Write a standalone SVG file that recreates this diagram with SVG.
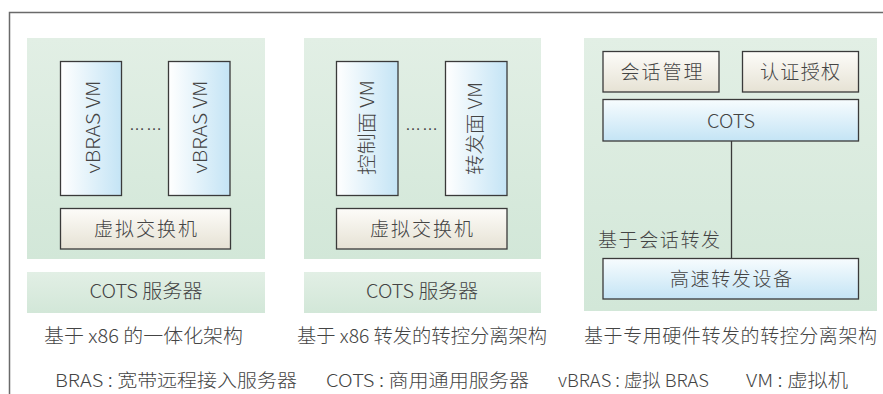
<svg xmlns="http://www.w3.org/2000/svg" width="883" height="394" viewBox="0 0 883 394">
<defs>
<linearGradient id="gGreen" x1="0" y1="0" x2="0" y2="1"><stop offset="0" stop-color="#e2efe5"/><stop offset="1" stop-color="#d2e7d8"/></linearGradient>
<linearGradient id="gVM" x1="0" y1="0" x2="1" y2="0"><stop offset="0" stop-color="#ffffff"/><stop offset="1" stop-color="#c4e4f5"/></linearGradient>
<linearGradient id="gBeige" x1="0" y1="0" x2="0" y2="1"><stop offset="0" stop-color="#fdfcf9"/><stop offset="1" stop-color="#e6e2d4"/></linearGradient>
<linearGradient id="gBlue" x1="0" y1="0" x2="0" y2="1"><stop offset="0" stop-color="#f7fcfe"/><stop offset="1" stop-color="#c4e4f5"/></linearGradient>
</defs>
<style>
text{font-family:"Noto Sans CJK SC","Liberation Sans",sans-serif;fill:#444444;font-size:19px;font-weight:300}
.m{text-anchor:middle}
.box{stroke:#3a3a3a;stroke-width:1.3}
.panel{fill:url(#gGreen)}
.vm{fill:url(#gVM)}
.beige{fill:url(#gBeige)}
.blue{fill:url(#gBlue)}
.dots{font-family:"Liberation Sans",sans-serif;font-size:16px}
.lg{font-size:18px}
</style>
<rect width="883" height="394" fill="#ffffff"/>
<path d="M9.5 394 V12.5 H883" fill="none" stroke="#6a6a6a" stroke-width="1.5"/>

<g id="panel1">
<rect class="panel" x="27" y="38" width="238" height="221"/>
<rect class="panel" x="27" y="272" width="238" height="41"/>
<text class="m" x="146" y="298" textLength="113" lengthAdjust="spacingAndGlyphs">COTS 服务器</text>
</g>
<g id="vm1a"><rect class="box vm" x="60.5" y="61.5" width="61" height="134"/><text class="m" transform="translate(100,127) rotate(-90)" textLength="93" lengthAdjust="spacingAndGlyphs">vBRAS VM</text></g>
<g id="dots1"><text class="dots" x="129" y="129.5" textLength="33">……</text></g>
<g id="vm1b"><rect class="box vm" x="168.5" y="61.5" width="61.5" height="134"/><text class="m" transform="translate(206.5,127) rotate(-90)" textLength="93" lengthAdjust="spacingAndGlyphs">vBRAS VM</text></g>
<g id="switch1"><rect class="box beige" x="60.5" y="208.5" width="170" height="40.5"/><text class="m" x="145.5" y="236" textLength="103">虚拟交换机</text></g>
<g id="cap1"><text x="44" y="343" textLength="199" lengthAdjust="spacingAndGlyphs">基于 x86 的一体化架构</text></g>

<g id="panel2">
<rect class="panel" x="304" y="38" width="237" height="221"/>
<rect class="panel" x="304" y="272" width="237" height="41"/>
<text class="m" x="422" y="298" textLength="112" lengthAdjust="spacingAndGlyphs">COTS 服务器</text>
</g>
<g id="vm2a"><rect class="box vm" x="336.5" y="61.5" width="61.5" height="134"/><text class="m" transform="translate(373.5,127.5) rotate(-90)" textLength="95" lengthAdjust="spacingAndGlyphs">控制面 VM</text></g>
<g id="dots2"><text class="dots" x="405" y="129.5" textLength="33">……</text></g>
<g id="vm2b"><rect class="box vm" x="445.5" y="61.5" width="61.5" height="134"/><text class="m" transform="translate(481.5,128.5) rotate(-90)" textLength="93" lengthAdjust="spacingAndGlyphs">转发面 VM</text></g>
<g id="switch2"><rect class="box beige" x="336.5" y="208.5" width="170.5" height="40.5"/><text class="m" x="421.5" y="236" textLength="103">虚拟交换机</text></g>
<g id="cap2"><text x="297" y="343" textLength="250" lengthAdjust="spacingAndGlyphs">基于 x86 转发的转控分离架构</text></g>

<g id="panel3"><rect class="panel" x="584" y="38" width="293" height="273"/></g>
<g id="connectors"><line x1="731.5" y1="141" x2="731.5" y2="258" stroke="#3a3a3a" stroke-width="1.3"/></g>
<g id="session"><rect class="box beige" x="603" y="51.5" width="116" height="40.5"/><text class="m" x="661.5" y="79" textLength="82">会话管理</text></g>
<g id="auth"><rect class="box beige" x="742.5" y="51.5" width="116" height="40.5"/><text class="m" x="800" y="79" textLength="80">认证授权</text></g>
<g id="cots3"><rect class="box blue" x="603" y="99.5" width="255.5" height="41.5"/><text class="m" x="731" y="127.5" textLength="48" lengthAdjust="spacingAndGlyphs">COTS</text></g>
<g id="fwdlabel"><text x="598" y="247" textLength="122">基于会话转发</text></g>
<g id="hsfwd"><rect class="box blue" x="603" y="258.5" width="255.5" height="40.5"/><text class="m" x="731" y="286" textLength="122">高速转发设备</text></g>
<g id="cap3"><text x="584" y="343" textLength="293">基于专用硬件转发的转控分离架构</text></g>

<g id="legend">
<text class="lg" x="55" y="387" textLength="242" lengthAdjust="spacingAndGlyphs">BRAS : 宽带远程接入服务器</text>
<text class="lg" x="326" y="387" textLength="203" lengthAdjust="spacingAndGlyphs">COTS : 商用通用服务器</text>
<text class="lg" x="558" y="387" textLength="151" lengthAdjust="spacingAndGlyphs">vBRAS : 虚拟 BRAS</text>
<text class="lg" x="746" y="387" textLength="102" lengthAdjust="spacingAndGlyphs">VM : 虚拟机</text>
</g>
</svg>
